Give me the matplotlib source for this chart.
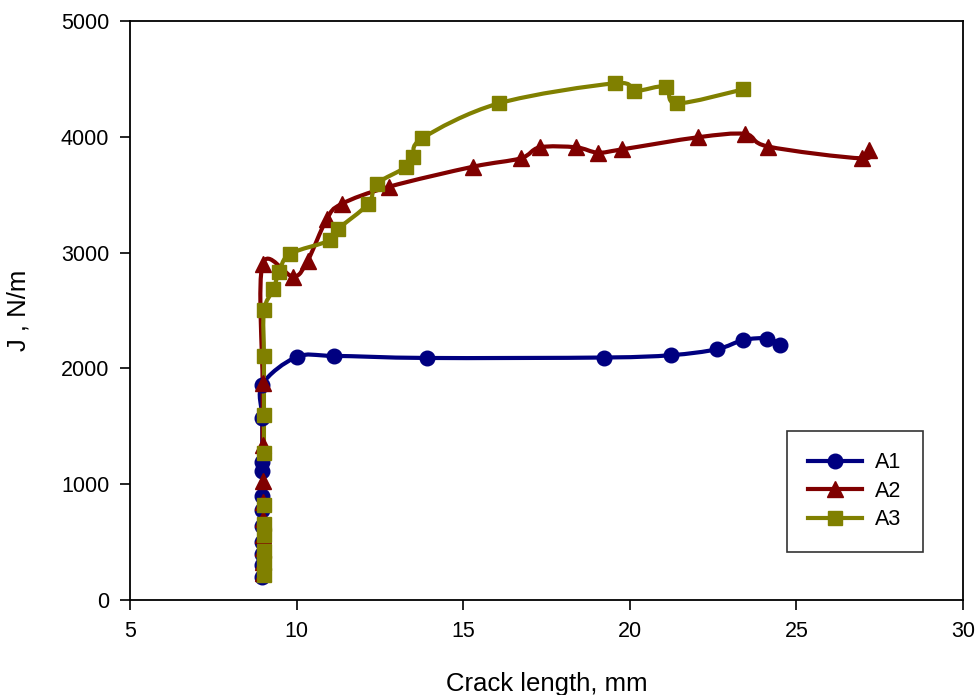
import numpy as np
import matplotlib
matplotlib.use("Agg")
import matplotlib.pyplot as plt
from matplotlib.path import Path
from matplotlib.patches import PathPatch
from matplotlib.lines import Line2D

plt.rcParams['font.family'] = ['Liberation Sans', 'DejaVu Sans']

# crack length (mm) and J-integral (N/m) for each specimen
a1_x = [8.97, 8.97, 8.97, 8.97, 8.97, 8.97, 8.97, 8.97, 8.97, 8.97, 8.97,
        10.0, 11.13, 13.92, 19.24, 21.23, 22.61, 23.41, 24.13, 24.51]
a1_y = [200, 300, 400, 500, 640, 780, 900, 1110, 1190, 1570, 1860,
        2098, 2108, 2090, 2094, 2114, 2165, 2245, 2258, 2205]

a2_x = [8.98, 8.98, 8.98, 8.98, 8.98, 8.98, 8.98, 8.98, 8.98, 8.98,
        9.9, 10.33, 10.9, 11.35, 12.78, 15.30, 16.72, 17.30, 18.39, 19.04,
        19.78, 22.05, 23.46, 24.16, 26.96, 27.19]
a2_y = [230, 330, 450, 560, 700, 850, 1030, 1340, 1870, 2900,
        2792, 2930, 3287, 3420, 3569, 3742, 3814, 3909, 3909, 3863,
        3892, 3996, 4024, 3915, 3814, 3890]

a3_x = [9.02, 9.02, 9.02, 9.02, 9.02, 9.02, 9.02, 9.02, 9.02, 9.02,
        9.3, 9.48, 9.8, 11.0, 11.23, 12.15, 12.40, 13.28, 13.50, 13.77,
        16.07, 19.56, 20.14, 21.08, 21.41, 23.41]
a3_y = [220, 320, 420, 560, 660, 820, 1270, 1600, 2110, 2500,
        2683, 2835, 2988, 3105, 3201, 3420, 3592, 3737, 3823, 3987,
        4289, 4462, 4396, 4433, 4289, 4410]

series = [
    ("A1", a1_x, a1_y, "#000080", "o", 10.5),
    ("A2", a2_x, a2_y, "#800000", "^", 11),
    ("A3", a3_x, a3_y, "#808000", "s", 9.5),
]


def smooth_path(x, y):
    # cubic Bezier through every point, Catmull-Rom style tangents
    pts = np.column_stack([x, y]).astype(float)
    verts = [pts[0]]
    codes = [Path.MOVETO]
    n = len(pts)
    for i in range(n - 1):
        p0 = pts[i - 1] if i > 0 else pts[i]
        p1 = pts[i]
        p2 = pts[i + 1]
        p3 = pts[i + 2] if i + 2 < n else pts[i + 1]
        verts += [p1 + (p2 - p0) / 6.0, p2 - (p3 - p1) / 6.0, p2]
        codes += [Path.CURVE4] * 3
    return Path(verts, codes)


fig = plt.figure(figsize=(9.76, 6.95), dpi=100)
ax = fig.add_axes([0.1332, 0.1367, 0.8535, 0.8331])

handles = []
for name, x, y, color, marker, ms in series:
    ax.add_patch(PathPatch(smooth_path(x, y), fill=False, edgecolor=color,
                           lw=3, capstyle='round', joinstyle='round', zorder=2))
    ax.plot(x, y, ls='none', marker=marker, ms=ms, color=color,
            markeredgecolor=color, zorder=3)
    handles.append(Line2D([], [], color=color, lw=3, marker=marker, ms=ms,
                          markeredgecolor=color, label=name))

ax.set_xlim(5, 30)
ax.set_ylim(0, 5000)
ax.set_xticks(range(5, 31, 5))
ax.set_yticks(range(0, 5001, 1000))
ax.tick_params(direction='out', length=7, width=1.2, labelsize=15.5, pad=8)
for s in ax.spines.values():
    s.set_linewidth(1.3)

ax.set_xlabel("Crack length, mm", fontsize=18.5, labelpad=22)
ax.set_ylabel("J , N/m", fontsize=18.5, labelpad=22)

leg = ax.legend(handles=handles, loc='lower right', bbox_to_anchor=(0.952, 0.083),
                borderaxespad=0, fontsize=15.5, frameon=True, fancybox=False,
                handlelength=2.5, borderpad=1.0, labelspacing=0.35,
                handletextpad=0.6)
leg.get_frame().set_edgecolor('black')
leg.get_frame().set_linewidth(1.2)

fig.savefig("out.png", dpi=100)
